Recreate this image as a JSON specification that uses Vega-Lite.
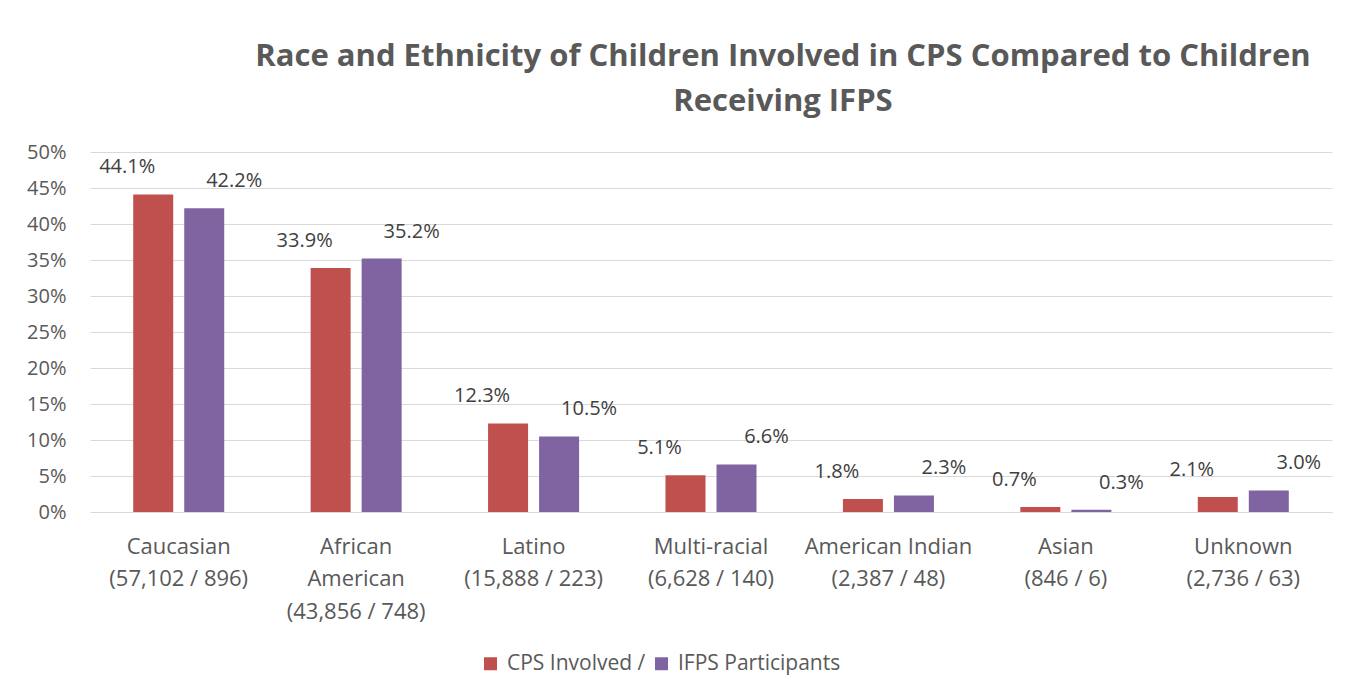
{
  "$schema": "https://vega.github.io/schema/vega-lite/v6.json",
  "autosize": {"type": "none"},
  "width": 1242,
  "height": 360,
  "padding": {"left": 90, "top": 152, "right": 33, "bottom": 188},
  "background": "white",
  "title": {
    "text": ["Race and Ethnicity of Children Involved in CPS Compared to Children", "Receiving IFPS"],
    "anchor": "middle",
    "dx": 72,
    "offset": 24,
    "font": "Open Sans",
    "fontSize": 31,
    "fontWeight": "bold",
    "color": "#595959",
    "lineHeight": 45
  },
  "data": {
    "values": [
      {"group": "Caucasian|(57,102 / 896)", "series": "CPS Involved /", "value": 0.441},
      {"group": "Caucasian|(57,102 / 896)", "series": "IFPS Participants", "value": 0.422},
      {"group": "African|American|(43,856 / 748)", "series": "CPS Involved /", "value": 0.339},
      {"group": "African|American|(43,856 / 748)", "series": "IFPS Participants", "value": 0.352},
      {"group": "Latino|(15,888 / 223)", "series": "CPS Involved /", "value": 0.123},
      {"group": "Latino|(15,888 / 223)", "series": "IFPS Participants", "value": 0.105},
      {"group": "Multi-racial|(6,628 / 140)", "series": "CPS Involved /", "value": 0.051},
      {"group": "Multi-racial|(6,628 / 140)", "series": "IFPS Participants", "value": 0.066},
      {"group": "American Indian|(2,387 / 48)", "series": "CPS Involved /", "value": 0.018},
      {"group": "American Indian|(2,387 / 48)", "series": "IFPS Participants", "value": 0.023},
      {"group": "Asian|(846 / 6)", "series": "CPS Involved /", "value": 0.007},
      {"group": "Asian|(846 / 6)", "series": "IFPS Participants", "value": 0.003},
      {"group": "Unknown|(2,736 / 63)", "series": "CPS Involved /", "value": 0.021},
      {"group": "Unknown|(2,736 / 63)", "series": "IFPS Participants", "value": 0.030}
    ]
  },
  "encoding": {
    "x": {
      "field": "group",
      "type": "nominal",
      "sort": null,
      "scale": {"paddingInner": 0.487, "paddingOuter": 0.2435},
      "axis": {
        "title": null,
        "labelExpr": "split(datum.value, '|')",
        "labelAngle": 0,
        "labelFont": "Open Sans",
        "labelFontSize": 22,
        "labelColor": "#595959",
        "labelLineHeight": 32.5,
        "labelPadding": 24,
        "ticks": false,
        "domainColor": "#d9d9d9",
        "labelBaseline": "top"
      }
    },
    "xOffset": {
      "field": "series",
      "type": "nominal",
      "sort": ["CPS Involved /", "IFPS Participants"],
      "scale": {"paddingInner": 0.216}
    },
    "y": {
      "field": "value",
      "type": "quantitative",
      "scale": {"domain": [0, 0.5]},
      "axis": {
        "title": null,
        "format": ".0%",
        "values": [0, 0.05, 0.1, 0.15, 0.2, 0.25, 0.3, 0.35, 0.4, 0.45, 0.5],
        "domain": false,
        "ticks": false,
        "gridColor": "#d9d9d9",
        "gridWidth": 1,
        "labelFont": "Open Sans",
        "labelFontSize": 20,
        "labelColor": "#595959",
        "labelPadding": 24
      }
    }
  },
  "layer": [
    {
      "mark": {"type": "bar"},
      "encoding": {
        "color": {
          "field": "series",
          "type": "nominal",
          "sort": ["CPS Involved /", "IFPS Participants"],
          "scale": {"range": ["#C0504D", "#8064A2"]},
          "legend": {
            "title": null,
            "orient": "none",
            "direction": "horizontal",
            "legendX": 390,
            "legendY": 501,
            "symbolType": "square",
            "symbolSize": 169,
            "symbolStrokeWidth": 0,
            "labelFont": "Open Sans",
            "labelFontSize": 21,
            "labelColor": "#595959",
            "labelOffset": 6,
            "labelLimit": 400,
            "columnPadding": 5
          }
        }
      }
    },
    {
      "transform": [{"filter": "datum.series == 'CPS Involved /'"}],
      "mark": {"type": "text", "dx": -26, "dy": -27, "baseline": "middle", "font": "Open Sans", "fontSize": 20, "color": "#404040"},
      "encoding": {
        "text": {"field": "value", "type": "quantitative", "format": ".1%"}
      }
    },
    {
      "transform": [{"filter": "datum.series == 'IFPS Participants'"}],
      "mark": {"type": "text", "dx": 30, "dy": -27, "baseline": "middle", "font": "Open Sans", "fontSize": 20, "color": "#404040"},
      "encoding": {
        "text": {"field": "value", "type": "quantitative", "format": ".1%"}
      }
    }
  ],
  "config": {
    "view": {"stroke": null}
  }
}
